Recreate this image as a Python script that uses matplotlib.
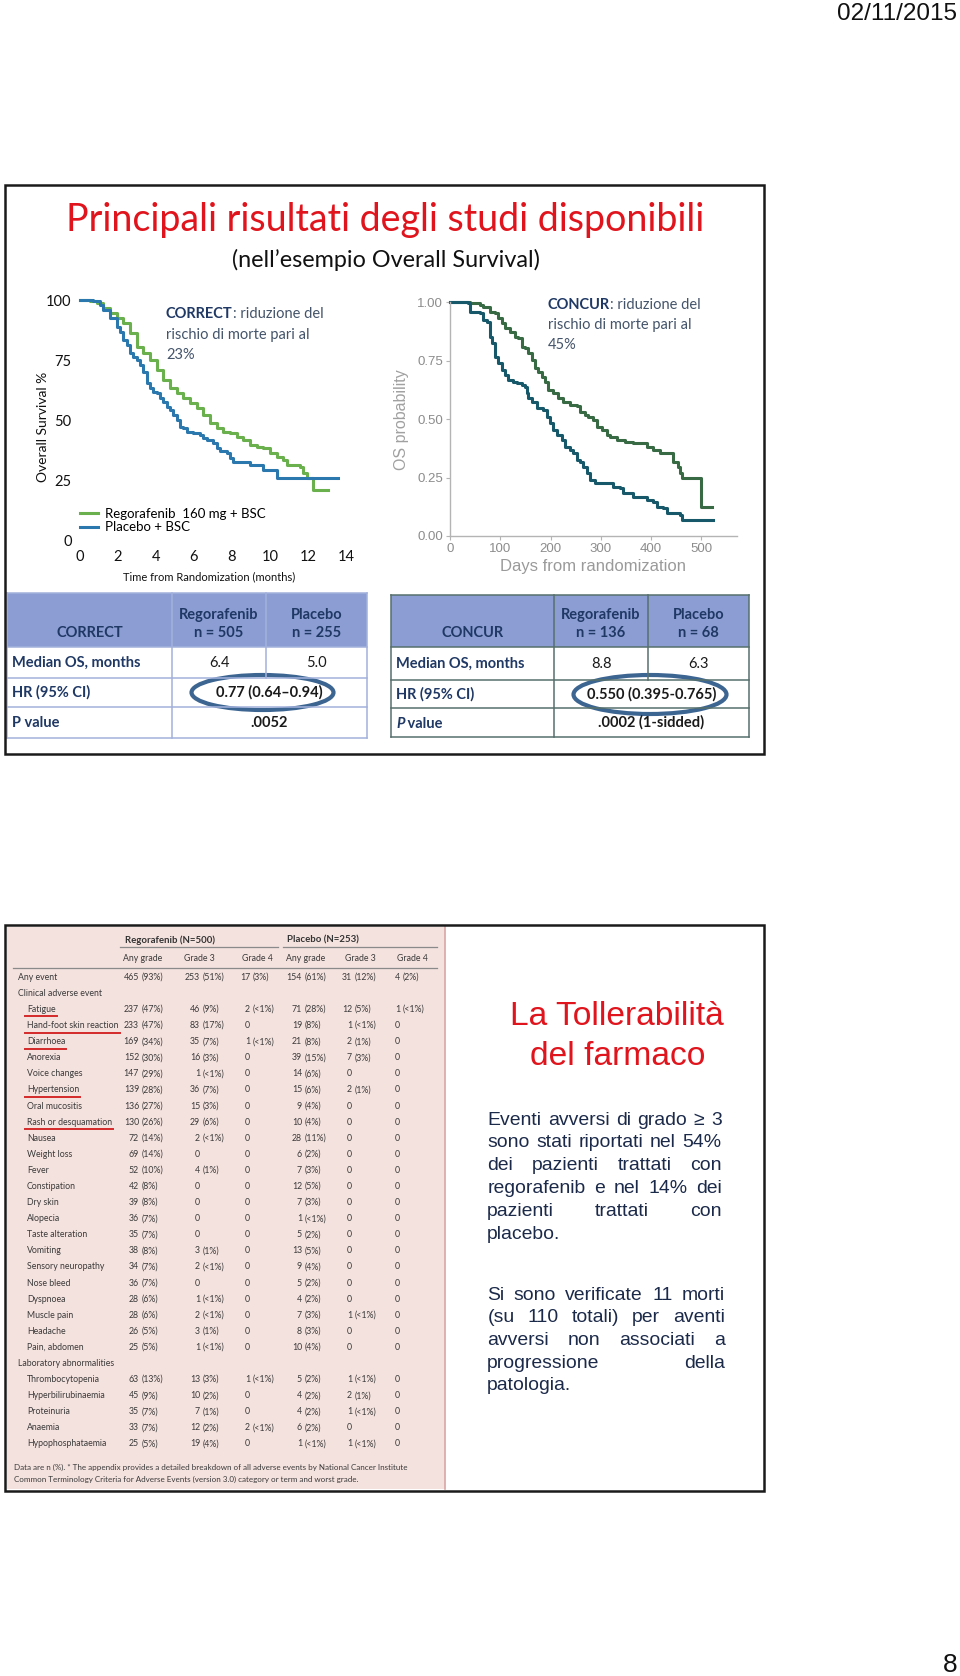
import numpy as np
import matplotlib.pyplot as plt
from matplotlib.patches import Rectangle, Ellipse

W, H = 960, 1676

# CORRECT trial - overall survival (%), months
correct_months_rego = [0, 0.53, 0.88, 1.23, 1.58, 1.93, 2.28, 2.63, 2.98, 3.33,
                       3.68, 4.04, 4.39, 4.74, 5.09, 5.44, 5.79, 6.14, 6.49, 6.84,
                       7.19, 7.54, 7.89, 8.25, 8.60, 8.95, 9.30, 9.65, 10.0, 10.35,
                       10.70, 10.88, 11.58, 11.75, 11.93, 12.28, 13.07]
correct_os_rego = [100, 99.7, 98.6, 96.5, 94.4, 92.4, 90.3, 86.1, 80.6, 77.8,
                   75.0, 70.8, 66.7, 63.2, 61.1, 59.0, 56.9, 54.9, 52.1, 48.6,
                   46.5, 45.1, 44.4, 43.1, 41.7, 39.6, 38.9, 38.2, 36.1, 34.7,
                   33.3, 31.3, 30.6, 27.8, 25.7, 20.8, 20.8]
correct_months_pbo = [0, 0.70, 1.05, 1.23, 1.58, 1.93, 2.11, 2.28, 2.46, 2.63,
                      2.81, 2.98, 3.16, 3.33, 3.51, 3.68, 3.86, 4.04, 4.21, 4.39,
                      4.56, 4.74, 4.91, 5.09, 5.26, 5.44, 5.61, 5.96, 6.32, 6.49,
                      6.67, 7.02, 7.19, 7.37, 7.72, 7.89, 8.07, 8.95, 9.65, 10.35,
                      13.56]
correct_os_pbo = [100, 99.7, 97.9, 95.8, 92.4, 88.9, 86.8, 83.3, 81.3, 77.8,
                  76.4, 75.0, 72.9, 70.1, 65.3, 63.2, 61.8, 61.1, 59.0, 57.6,
                  55.6, 54.2, 52.1, 50.0, 47.2, 46.5, 45.1, 44.4, 43.8, 42.4,
                  41.7, 40.3, 38.2, 37.2, 36.1, 34.0, 32.6, 31.3, 29.2, 26.0,
                  26.0]
correct_xticks = [0, 2, 4, 6, 8, 10, 12, 14]
correct_yticks = [0, 25, 50, 75, 100]

# CONCUR trial - OS probability, days
concur_days_rego = [0, 39.7, 59.6, 66.2, 79.5, 89.4, 96.0, 102.6, 109.3, 119.2,
                    129.1, 135.8, 142.4, 149.0, 155.6, 162.3, 168.9, 175.5, 182.1, 188.8,
                    195.4, 205.3, 215.2, 225.2, 238.4, 251.7, 258.3, 268.2, 274.9, 284.8,
                    291.4, 301.3, 311.3, 317.9, 331.1, 347.7, 364.2, 390.7, 404.0, 417.2,
                    443.7, 453.7, 457.0, 460.3, 500.0, 519.9]
concur_os_rego = [1.0, 0.995, 0.989, 0.981, 0.960, 0.953, 0.932, 0.910, 0.889, 0.874,
                  0.853, 0.846, 0.810, 0.803, 0.782, 0.753, 0.718, 0.703, 0.682, 0.660,
                  0.625, 0.611, 0.589, 0.575, 0.561, 0.556, 0.532, 0.518, 0.511, 0.496,
                  0.468, 0.454, 0.432, 0.425, 0.411, 0.404, 0.397, 0.382, 0.368, 0.354,
                  0.318, 0.297, 0.268, 0.247, 0.126, 0.126]
concur_days_pbo = [0, 36.4, 39.7, 59.6, 66.2, 72.8, 79.5, 82.8, 89.4, 96.0,
                   102.6, 109.3, 115.9, 125.8, 132.5, 142.4, 149.0, 152.3, 155.6, 162.3,
                   172.2, 185.4, 192.1, 198.7, 205.3, 211.9, 221.9, 228.5, 238.4, 245.0,
                   251.7, 258.3, 264.9, 271.5, 278.2, 288.1, 324.5, 337.7, 344.4, 364.2,
                   390.7, 404.0, 410.6, 423.8, 430.5, 457.0, 460.3, 523.2]
concur_os_pbo = [1.0, 0.996, 0.960, 0.953, 0.924, 0.917, 0.853, 0.825, 0.767, 0.739,
                 0.710, 0.689, 0.668, 0.660, 0.653, 0.646, 0.639, 0.611, 0.589, 0.575,
                 0.546, 0.539, 0.511, 0.482, 0.454, 0.432, 0.411, 0.382, 0.368, 0.354,
                 0.325, 0.318, 0.297, 0.268, 0.240, 0.225, 0.211, 0.204, 0.183, 0.168,
                 0.154, 0.147, 0.126, 0.118, 0.097, 0.090, 0.068, 0.068]
concur_xticks = [0, 100, 200, 300, 400, 500]
concur_yticks = [0.0, 0.25, 0.50, 0.75, 1.00]

# summary tables
correct_header = ['CORRECT', 'Regorafenib\nn = 505', 'Placebo\nn = 255']
correct_median = ['6.4', '5.0']
correct_hr = '0.77 (0.64–0.94)'
correct_p = '.0052'
concur_header = ['CONCUR', 'Regorafenib\nn = 136', 'Placebo\nn = 68']
concur_median = ['8.8', '6.3']
concur_hr = '0.550 (0.395-0.765)'
concur_p = '.0002 (1-sidded)'
row_labels = ['Median OS, months', 'HR (95% CI)', 'P value']

# adverse events table
ae_groups = ['Regorafenib (N=500)', 'Placebo (N=253)']
ae_grades = ['Any grade', 'Grade 3', 'Grade 4', 'Any grade', 'Grade 3', 'Grade 4']
ae_events = ['Any event', 'Clinical adverse event', 'Fatigue', 'Hand-foot skin reaction',
             'Diarrhoea', 'Anorexia', 'Voice changes', 'Hypertension', 'Oral mucositis',
             'Rash or desquamation', 'Nausea', 'Weight loss', 'Fever', 'Constipation',
             'Dry skin', 'Alopecia', 'Taste alteration', 'Vomiting', 'Sensory neuropathy',
             'Nose bleed', 'Dyspnoea', 'Muscle pain', 'Headache', 'Pain, abdomen',
             'Laboratory abnormalities', 'Thrombocytopenia', 'Hyperbilirubinaemia',
             'Proteinuria', 'Anaemia', 'Hypophosphataemia']
ae_rego_any = ['465 (93%)', '', '237 (47%)', '233 (47%)', '169 (34%)', '152 (30%)', '147 (29%)',
               '139 (28%)', '136 (27%)', '130 (26%)', '72 (14%)', '69 (14%)', '52 (10%)',
               '42 (8%)', '39 (8%)', '36 (7%)', '35 (7%)', '38 (8%)', '34 (7%)', '36 (7%)',
               '28 (6%)', '28 (6%)', '26 (5%)', '25 (5%)', '', '63 (13%)', '45 (9%)',
               '35 (7%)', '33 (7%)', '25 (5%)']
ae_rego_g3 = ['253 (51%)', '', '46 (9%)', '83 (17%)', '35 (7%)', '16 (3%)', '1 (<1%)',
              '36 (7%)', '15 (3%)', '29 (6%)', '2 (<1%)', '0', '4 (1%)', '0', '0', '0', '0',
              '3 (1%)', '2 (<1%)', '0', '1 (<1%)', '2 (<1%)', '3 (1%)', '1 (<1%)', '',
              '13 (3%)', '10 (2%)', '7 (1%)', '12 (2%)', '19 (4%)']
ae_rego_g4 = ['17 (3%)', '', '2 (<1%)', '0', '1 (<1%)', '0', '0', '0', '0', '0', '0', '0',
              '0', '0', '0', '0', '0', '0', '0', '0', '0', '0', '0', '0', '',
              '1 (<1%)', '0', '0', '2 (<1%)', '0']
ae_pbo_any = ['154 (61%)', '', '71 (28%)', '19 (8%)', '21 (8%)', '39 (15%)', '14 (6%)',
              '15 (6%)', '9 (4%)', '10 (4%)', '28 (11%)', '6 (2%)', '7 (3%)', '12 (5%)',
              '7 (3%)', '1 (<1%)', '5 (2%)', '13 (5%)', '9 (4%)', '5 (2%)', '4 (2%)',
              '7 (3%)', '8 (3%)', '10 (4%)', '', '5 (2%)', '4 (2%)', '4 (2%)', '6 (2%)',
              '1 (<1%)']
ae_pbo_g3 = ['31 (12%)', '', '12 (5%)', '1 (<1%)', '2 (1%)', '7 (3%)', '0', '2 (1%)', '0',
             '0', '0', '0', '0', '0', '0', '0', '0', '0', '0', '0', '0', '1 (<1%)', '0',
             '0', '', '1 (<1%)', '2 (1%)', '1 (<1%)', '0', '1 (<1%)']
ae_pbo_g4 = ['4 (2%)', '', '1 (<1%)', '0', '0', '0', '0', '0', '0', '0', '0', '0', '0', '0',
             '0', '0', '0', '0', '0', '0', '0', '0', '0', '0', '', '0', '0', '0', '0', '0']
ae_sections = ['Any event', 'Clinical adverse event', 'Laboratory abnormalities']
ae_marked = ['Fatigue', 'Hand-foot skin reaction', 'Diarrhoea', 'Hypertension',
             'Rash or desquamation']
ae_note = ['Data are n (%). * The appendix provides a detailed breakdown of all adverse events by National Cancer Institute',
           'Common Terminology Criteria for Adverse Events (version 3.0) category or term and worst grade.']

para1 = ['Eventi avversi di grado ≥ 3', 'sono stati riportati nel 54%', 'dei pazienti trattati con',
         'regorafenib e nel 14% dei', 'pazienti trattati con', 'placebo.']
para2 = ['Si sono verificate 11 morti', '(su 110 totali) per aventi', 'avversi non associati a',
         'progressione della', 'patologia.']

plt.rcParams['font.family'] = ['Lato', 'DejaVu Sans']
ARIAL = ['Liberation Sans', 'DejaVu Sans']
RED = '#e0141c'
NAVY = '#1f3864'
SLATE = '#44546a'

fig = plt.figure(figsize=(W / 100, H / 100), dpi=100)
bg = fig.add_axes([0, 0, 1, 1])
bg.set_xlim(0, W)
bg.set_ylim(H, 0)
bg.axis('off')
renderer = fig.canvas.get_renderer()


def width(t):
    return t.get_window_extent(renderer).width


def fit(t, target):
    t.set_fontsize(t.get_fontsize() * target / width(t))


def px_axes(x0, y0, x1, y1):
    return fig.add_axes([x0 / W, 1 - y1 / H, (x1 - x0) / W, (y1 - y0) / H])


def two_part(x, y, first, rest, size, c1, c2, style1='normal'):
    t = bg.text(x, y, first, weight='bold', style=style1, color=c1, fontsize=size, va='baseline')
    t2 = bg.text(x + width(t), y, rest, weight=('bold' if c2 == c1 else 'normal'),
                 color=c2, fontsize=size, va='baseline')
    return t, t2


def justify(lines, x0, x1, ys, **kw):
    for i, (line, y) in enumerate(zip(lines, ys)):
        words = line.split()
        if i == len(lines) - 1 or len(words) == 1:
            bg.text(x0, y, line, ha='left', va='center', **kw)
            continue
        ts = [bg.text(0, y, w, ha='left', va='center', **kw) for w in words]
        ws = [width(t) for t in ts]
        gap = (x1 - x0 - sum(ws)) / (len(words) - 1)
        x = x0
        for t, w in zip(ts, ws):
            t.set_x(x)
            x += w + gap


# page furniture
bg.text(957, 14, '02/11/2015', ha='right', va='center', fontsize=17.5, family=ARIAL, color='#111111')
bg.text(958, 1665, '8', ha='right', va='center', fontsize=19, family=ARIAL, color='#111111')

# ---------------- slide 1 ----------------
t = bg.text(385, 231, 'Principali risultati degli studi disponibili', ha='center', va='baseline',
            color=RED, fontsize=26)
fit(t, 637)
t = bg.text(385.5, 260, '(nell’esempio Overall Survival)', ha='center', va='center',
            color='#111111', fontsize=14)
fit(t, 309)

# CORRECT KM
ax1 = px_axes(80, 300, 346, 540)
ax1.step(correct_months_rego, correct_os_rego, where='post', color='#6ab04c', lw=2.2,
         label='Regorafenib  160 mg + BSC', clip_on=False)
ax1.step(correct_months_pbo, correct_os_pbo, where='post', color='#2a78ad', lw=2.2,
         label='Placebo + BSC', clip_on=False)
ax1.set_xlim(0, 14)
ax1.set_ylim(0, 100)
ax1.set_xticks(correct_xticks)
ax1.set_yticks(correct_yticks)
for s in ax1.spines.values():
    s.set_visible(False)
ax1.patch.set_alpha(0)
ax1.tick_params(axis='x', length=0, labelsize=10.5, pad=7, labelcolor='#111111')
ax1.tick_params(axis='y', length=0, labelsize=10.5, pad=6, labelcolor='#111111')
ax1.legend(loc='upper left', bbox_to_anchor=(0.0, 0.135), frameon=False, fontsize=9.5,
           handlelength=1.4, handletextpad=0.5, labelspacing=0.12, borderpad=0, borderaxespad=0)
ax1.set_xlabel('Time from Randomization (months)', fontsize=8, color='#111111')
ax1.xaxis.set_label_coords(0.485, -0.13)
ax1.set_ylabel('Overall Survival %', fontsize=10, color='#111111')
ax1.yaxis.set_label_coords(-0.115, 0.47)

two_part(166, 318, 'CORRECT', ': riduzione del', 10.5, NAVY, SLATE)
bg.text(166, 338.5, 'rischio di morte pari al', fontsize=10.5, color=SLATE, va='baseline')
bg.text(166, 359, '23%', fontsize=10.5, color=SLATE, va='baseline')

# CONCUR KM
ax2 = px_axes(450, 302.3, 736.7, 536)
ax2.step(concur_days_rego, concur_os_rego, where='post', color='#386b44', lw=2.2, clip_on=False)
ax2.step(concur_days_pbo, concur_os_pbo, where='post', color='#17596a', lw=2.2, clip_on=False)
ax2.set_xlim(0, 570)
ax2.set_ylim(0, 1.0)
ax2.set_xticks(concur_xticks)
ax2.set_yticks(concur_yticks)
ax2.set_yticklabels([f'{v:.2f}' for v in concur_yticks])
ax2.spines['top'].set_visible(False)
ax2.spines['right'].set_visible(False)
for s in ['left', 'bottom']:
    ax2.spines[s].set_color('#b4b4b4')
    ax2.spines[s].set_linewidth(1.0)
ax2.patch.set_alpha(0)
ax2.tick_params(colors='#b4b4b4', labelcolor='#8c8c8c', labelsize=9.5, length=3, width=0.8, pad=2)
for lab in ax2.get_xticklabels() + ax2.get_yticklabels():
    lab.set_family(ARIAL)
ax2.set_xlabel('Days from randomization', fontsize=12, color='#9a9a9a', family=ARIAL, labelpad=3)
ax2.set_ylabel('OS probability', fontsize=11.5, color='#a0a0a0', family=ARIAL, labelpad=6)

two_part(548, 309, 'CONCUR', ': riduzione del', 10.5, NAVY, SLATE)
bg.text(548, 329, 'rischio di morte pari al', fontsize=10.5, color=SLATE, va='baseline')
bg.text(548, 349, '45%', fontsize=10.5, color=SLATE, va='baseline')


def summary_table(xs, ys, header, median, hr, p, line_color, italic_p):
    x0, x1, x2, x3 = xs
    bg.add_patch(Rectangle((x0, ys[0]), x3 - x0, ys[1] - ys[0], fc='#8b9dd3', ec='none'))
    bg.add_patch(Rectangle((x0, ys[1]), x3 - x0, ys[4] - ys[1], fc='white', ec='none'))
    for y in ys:
        bg.plot([x0, x3], [y, y], color=line_color, lw=1.1)
    for x in (x0, x1, x3):
        bg.plot([x, x], [ys[0], ys[4]], color=line_color, lw=1.1)
    bg.plot([x2, x2], [ys[0], ys[2]], color=line_color, lw=1.1)
    kw = dict(ha='center', va='center', fontsize=10.5, color=NAVY, weight='bold')
    bg.text((x0 + x1) / 2, 633, header[0], **kw)
    for cx, h in zip([(x1 + x2) / 2, (x2 + x3) / 2], header[1:]):
        top, bottom = h.split('\n')
        bg.text(cx, 615, top, **kw)
        bg.text(cx, 633, bottom, **kw)
    rows_c = [(ys[i] + ys[i + 1]) / 2 for i in range(1, 4)]
    for lab, yc in zip(row_labels[:2], rows_c[:2]):
        bg.text(x0 + 5, yc, lab, ha='left', va='center', fontsize=10.5, color=NAVY, weight='bold')
    if italic_p:
        two_part(x0 + 5, rows_c[2] + 5, 'P', ' value', 10.5, NAVY, NAVY, style1='italic')
    else:
        bg.text(x0 + 5, rows_c[2], row_labels[2], ha='left', va='center', fontsize=10.5,
                color=NAVY, weight='bold')
    bg.text((x1 + x2) / 2, rows_c[0], median[0], ha='center', va='center', fontsize=10.5, color='#1a1a1a')
    bg.text((x2 + x3) / 2, rows_c[0], median[1], ha='center', va='center', fontsize=10.5, color='#1a1a1a')
    bg.text((x1 + x3) / 2, rows_c[1], hr, ha='center', va='center', fontsize=10.5, color='#1a1a1a', weight='bold')
    bg.text((x1 + x3) / 2, rows_c[2], p, ha='center', va='center', fontsize=10.5, color='#1a1a1a', weight='bold')


summary_table([7, 172, 266, 367], [593, 647, 678, 707, 738], correct_header, correct_median,
              correct_hr, correct_p, '#a3b2dc', False)
summary_table([391, 554, 648, 749], [595, 647, 680, 708, 737], concur_header, concur_median,
              concur_hr, concur_p, '#56706c', True)
bg.add_patch(Ellipse((262.5, 692.5), 142, 35, fill=False, ec='#3d6592', lw=3))
bg.add_patch(Ellipse((650, 694.5), 153, 39, fill=False, ec='#3d6592', lw=3))

# ---------------- slide 2 ----------------
bg.add_patch(Rectangle((7, 927), 438, 562, fc='#f4e2de', ec='none'))
bg.plot([445, 445], [927, 1489], color='#d6a6a6', lw=1.2)

AE = dict(fontsize=6.3, color='#3a3a3a', va='center')
bg.text(125, 940, ae_groups[0], ha='left', weight='bold', fontsize=6.9, color='#333333', va='center')
bg.text(287, 940, ae_groups[1], ha='left', weight='bold', fontsize=6.9, color='#333333', va='center')
bg.plot([120, 278], [947, 947], color='#8a8a8a', lw=0.9)
bg.plot([283, 437], [947, 947], color='#8a8a8a', lw=0.9)
for x, g in zip([123, 184, 242, 286, 345, 397], ae_grades):
    bg.text(x, 958, g, ha='left', **AE)
bg.plot([13, 437], [968, 968], color='#8a8a8a', lw=0.9)

col_right = [139, 200, 250, 302, 352, 400]
ae_cols = [ae_rego_any, ae_rego_g3, ae_rego_g4, ae_pbo_any, ae_pbo_g3, ae_pbo_g4]
row_y = 977.3 + 16.09 * np.arange(len(ae_events))
for i, (ev, y) in enumerate(zip(ae_events, row_y)):
    x = 18 if ev in ae_sections else 27
    t = bg.text(x, y, ev, ha='left', **AE)
    if ev in ae_marked:
        bg.plot([25, x + width(t) + 1], [y + 7, y + 7], color='#d42a2a', lw=1.4)
    for xr, col in zip(col_right, ae_cols):
        s = col[i]
        if not s:
            continue
        if ' ' in s:
            n, pct = s.split(' ', 1)
            bg.text(xr, y, n, ha='right', **AE)
            bg.text(xr + 2.5, y, pct, ha='left', **AE)
        else:
            bg.text(xr, y, s, ha='right', **AE)

t = bg.text(14, 1467.7, ae_note[0], ha='left', **AE)
fit(t, 393)
bg.text(14, 1479, ae_note[1], ha='left', fontsize=t.get_fontsize(), color='#3a3a3a', va='center')

t = bg.text(617, 1016.7, 'La Tollerabilità', ha='center', va='center', color=RED, family=ARIAL, fontsize=22)
fit(t, 213)
t = bg.text(617.5, 1056.7, 'del farmaco', ha='center', va='center', color=RED, family=ARIAL, fontsize=22)
fit(t, 175)

# body size: the least stretched line of the slide sets the natural width
probe = bg.text(0, 0, para1[1], family=ARIAL, fontsize=12)
fit(probe, 229)
body_size = probe.get_fontsize()
probe.remove()
body = dict(family=ARIAL, fontsize=body_size, color='#1c2a4a')
justify(para1, 487.3, 721.7, [1120, 1142.7, 1165.7, 1188.3, 1211, 1234], **body)
justify(para2, 487.3, 725, [1295, 1317.7, 1340.7, 1363.3, 1385.7], **body)

# slide frames
for y0, y1 in [(185, 754), (925, 1491)]:
    bg.add_patch(Rectangle((5, y0), 759, y1 - y0, fill=False, lw=1.8, ec='#1a1a1a', zorder=5))

fig.savefig('out.png', dpi=100)
